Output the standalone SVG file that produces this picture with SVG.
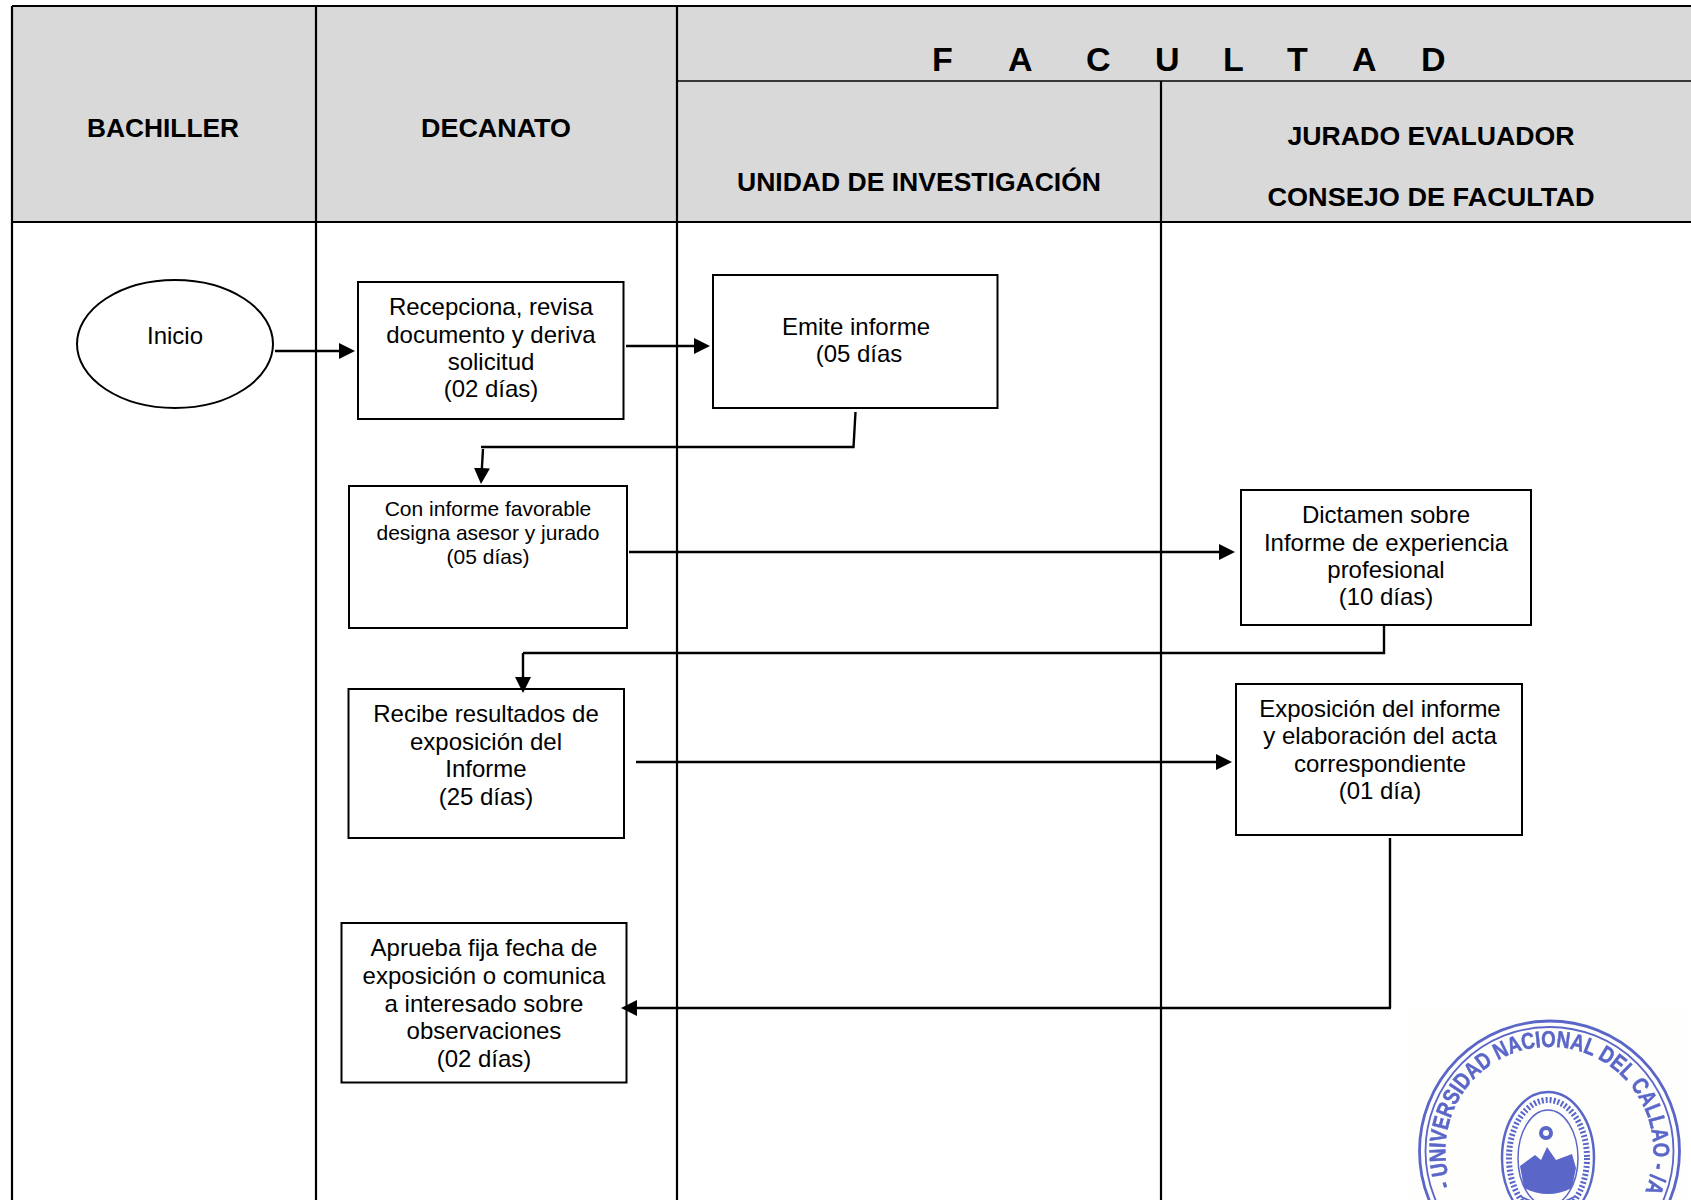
<svg xmlns="http://www.w3.org/2000/svg" width="1691" height="1200" viewBox="0 0 1691 1200">
<style>
text{font-family:"Liberation Sans",Arial,sans-serif;fill:#000;text-anchor:middle}
.b{font-size:24px}
.s{font-size:21px}
.h{font-size:26px;font-weight:bold}
.box{fill:#fff;stroke:#000;stroke-width:2}
.g{stroke:#000;stroke-width:2;fill:none}
.c{stroke:#000;stroke-width:2.400;fill:none}
.a{marker-end:url(#ah)}
.st{fill:none;stroke:#5a66c8}
.stf{fill:#5a66c8}
</style>
<defs>
<marker id="ah" markerUnits="userSpaceOnUse" markerWidth="17" markerHeight="17" refX="7" refY="8" orient="auto"><path d="M0,0L16,8L0,16z" fill="#000"/></marker>
<filter id="bl" x="-5%" y="-5%" width="110%" height="110%"><feGaussianBlur stdDeviation="0.7"/></filter>
<path id="arc" d="M1451.500,1186A104,104 0 1 1 1644,1194"/>
</defs>
<rect width="1691" height="1200" fill="#fff"/>
<g id="grid">
<rect x="12" y="6" width="1679" height="216" fill="#d9d9d9"/>
<path class="g" d="M12,6H1691M12,222H1691M12,6V1200M316,6V1200M677,6V1200M1161,81V1200" style="stroke-width:2.2"/>
<path class="g" d="M677,81H1691" style="stroke-width:1.6"/>
</g>
<g id="headers">
<text class="h" x="163" y="137" textLength="152" lengthAdjust="spacingAndGlyphs">BACHILLER</text>
<text class="h" x="496" y="137" textLength="150" lengthAdjust="spacingAndGlyphs">DECANATO</text>
<text class="h" x="919" y="191" textLength="364" lengthAdjust="spacingAndGlyphs">UNIDAD DE INVESTIGACIÓN</text>
<text class="h" x="1431" y="145" textLength="287" lengthAdjust="spacingAndGlyphs">JURADO EVALUADOR</text>
<text class="h" x="1431" y="206" textLength="327" lengthAdjust="spacingAndGlyphs">CONSEJO DE FACULTAD</text>
<text x="932 970 1008 1046 1086 1122 1155 1190 1223 1254 1287 1318 1352 1388 1421" y="71" style="font-size:34px;font-weight:bold;text-anchor:start">F A C U L T A D</text>
</g>
<g id="stamp" filter="url(#bl)">
<rect x="1406" y="1010" width="280" height="190" fill="#fefefd" stroke="none"/>
<circle class="st" cx="1549.500" cy="1151" r="130" stroke-width="2.800"/>
<circle class="st" cx="1549.500" cy="1151" r="124" stroke-width="1.800"/>
<text style="fill:#5a66c8;stroke:#5a66c8;stroke-width:0.5px;font-family:'Liberation Sans Narrow','Liberation Sans',sans-serif;font-size:23px;font-weight:bold"><textPath href="#arc" textLength="404" lengthAdjust="spacingAndGlyphs" startOffset="0" text-anchor="start">- UNIVERSIDAD NACIONAL DEL CALLAO - /A</textPath></text>
<ellipse class="st" cx="1548" cy="1158" rx="46" ry="66" stroke-width="2.500"/>
<ellipse class="st" cx="1548" cy="1158" rx="39" ry="58" stroke-width="6" stroke-dasharray="2 2"/>
<ellipse class="st" cx="1548" cy="1158" rx="30" ry="48" stroke-width="1.500"/>
<circle class="st" cx="1546" cy="1133" r="5" stroke-width="4"/>
<path class="stf" d="M1520,1166L1535,1155L1541,1160L1547,1147L1556,1160L1572,1154L1576,1168L1572,1188Q1548,1200 1524,1188z" stroke="none"/>
<path class="st" d="M1520,1196Q1548,1212 1576,1196" stroke-width="2"/>
</g>
<g id="n-inicio">
<ellipse class="box" cx="175" cy="344" rx="98" ry="64"/>
<text class="b" x="175" y="344">Inicio</text>
</g>
<g id="n-recepciona">
<rect class="box" x="358" y="282" width="265.500" height="137"/>
<text class="b" x="491" y="315">Recepciona, revisa</text>
<text class="b" x="491" y="343">documento y deriva</text>
<text class="b" x="491" y="370">solicitud</text>
<text class="b" x="491" y="397">(02 días)</text>
</g>
<g id="n-emite">
<rect class="box" x="713" y="275" width="284.500" height="133"/>
<text class="b" x="856" y="335">Emite informe</text>
<text class="b" x="859" y="362">(05 días</text>
</g>
<g id="n-designa">
<rect class="box" x="349" y="486" width="278" height="142"/>
<text class="s" x="488" y="516">Con informe favorable</text>
<text class="s" x="488" y="540">designa asesor y jurado</text>
<text class="s" x="488" y="564">(05 días)</text>
</g>
<g id="n-dictamen">
<rect class="box" x="1241" y="490" width="290" height="135"/>
<text class="b" x="1386" y="523">Dictamen sobre</text>
<text class="b" x="1386" y="551">Informe de experiencia</text>
<text class="b" x="1386" y="578">profesional</text>
<text class="b" x="1386" y="605">(10 días)</text>
</g>
<g id="n-recibe">
<rect class="box" x="348.500" y="689" width="275.500" height="149"/>
<text class="b" x="486" y="722">Recibe resultados de</text>
<text class="b" x="486" y="750">exposición del</text>
<text class="b" x="486" y="777">Informe</text>
<text class="b" x="486" y="805">(25 días)</text>
</g>
<g id="n-exposicion">
<rect class="box" x="1236" y="684" width="286" height="151"/>
<text class="b" x="1380" y="717">Exposición del informe</text>
<text class="b" x="1380" y="744">y elaboración del acta</text>
<text class="b" x="1380" y="772">correspondiente</text>
<text class="b" x="1380" y="799">(01 día)</text>
</g>
<g id="n-aprueba">
<rect class="box" x="341.500" y="923" width="285" height="159.500"/>
<text class="b" x="484" y="956">Aprueba fija fecha de</text>
<text class="b" x="484" y="984">exposición o comunica</text>
<text class="b" x="484" y="1012">a interesado sobre</text>
<text class="b" x="484" y="1039">observaciones</text>
<text class="b" x="484" y="1067">(02 días)</text>
</g>
<g id="connectors">
<path class="c a" d="M275,351H346"/>
<path class="c a" d="M626,346H701"/>
<path class="c" d="M855.500,412L853.500,447H481"/>
<path class="c a" d="M483,449L481.500,475"/>
<path class="c a" d="M629,552H1226"/>
<path class="c" d="M1384,625V653H523"/>
<path class="c a" d="M523,653V684"/>
<path class="c a" d="M636,762H1223"/>
<path class="c" d="M1390,838V1008"/>
<path class="c a" d="M1391,1008H630"/>
</g>
</svg>
